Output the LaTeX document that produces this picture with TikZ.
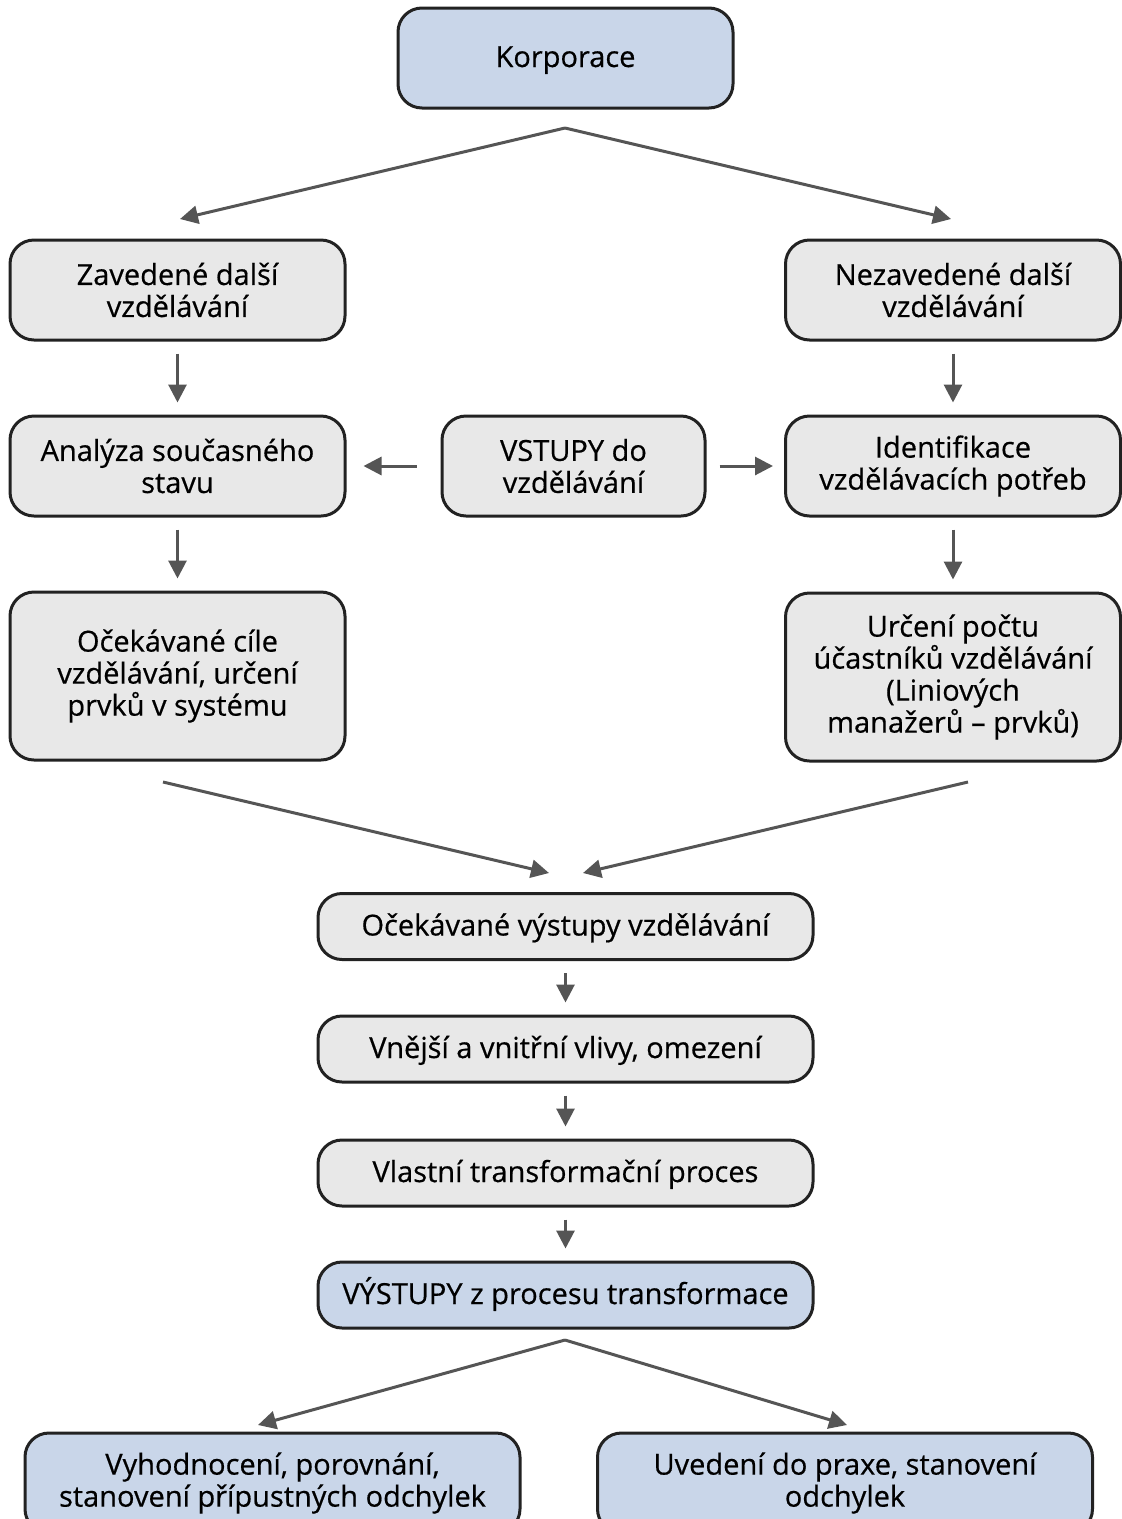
\documentclass[tikz,border=0pt]{standalone}
\usepackage{fontspec}
\setmainfont{Open Sans}[BoldFont=Open Sans, BoldFeatures={FakeBold=0.5}]
\usetikzlibrary{arrows.meta}
\definecolor{boxblue}{RGB}{201,214,233}
\definecolor{boxgray}{RGB}{232,232,232}
\definecolor{boxedge}{RGB}{34,34,34}
\definecolor{arrowc}{RGB}{85,85,85}
\begin{document}
\begin{tikzpicture}[x=1pt,y=-1pt,
  box/.style={draw=boxedge, line width=3pt, rounded corners=24pt, align=center,
    inner sep=0pt, font=\fontsize{29}{32}\selectfont\bfseries, text=black},
  graybox/.style={box, fill=boxgray},
  bluebox/.style={box, fill=boxblue},
  oneline/.style={text height=24pt, text depth=6pt},
  side/.style={minimum width=335pt, minimum height=100pt},
  mid/.style={minimum width=495pt, minimum height=66pt},
  arr/.style={draw=arrowc, line width=3pt, -{Triangle[length=18pt,width=18pt]}},
  gap/.style={shorten <=12pt, shorten >=12pt},
]
\useasboundingbox (0,0) rectangle (1122,1519);
\clip (0,0) rectangle (1122,1519);

% top
\node[bluebox, oneline, minimum width=335pt, minimum height=100pt] (korp) at (565.5,58) {Korporace};

% two branches
\node[graybox, side] (zav) at (177.5,290) {Zavedené další\\vzdělávání};
\node[graybox, side] (nezav) at (953,290) {Nezavedené další\\vzdělávání};
\node[graybox, side] (anal) at (177.5,466) {Analýza současného\\stavu};
\node[graybox, minimum width=263pt, minimum height=100pt] (vstup) at (573.5,466) {VSTUPY do\\vzdělávání};
\node[graybox, side] (ident) at (953,466) {Identifikace\\vzdělávacích potřeb};
\node[graybox, minimum width=335pt, minimum height=168pt] (cile) at (177.5,676) {Očekávané cíle\\vzdělávání, určení\\prvků v systému};
\node[graybox, minimum width=335pt, minimum height=168pt] (pocet) at (953,677) {Určení počtu\\účastníků vzdělávání\\(Liniových\\manažerů – prvků)};

% central chain
\node[graybox, oneline, mid] (vyst) at (565.5,926.5) {Očekávané výstupy vzdělávání};
\node[graybox, oneline, mid] (vlivy) at (565.5,1049) {Vnější a vnitřní vlivy, omezení};
\node[graybox, oneline, mid] (trans) at (565.5,1173) {Vlastní transformační proces};
\node[bluebox, oneline, mid] (vystupy) at (565.5,1295) {VÝSTUPY z procesu transformace};

% results
\node[bluebox, mid, minimum height=100pt] (hodn) at (272.5,1483) {Vyhodnocení, porovnání,\\stanovení přípustných odchylek};
\node[bluebox, mid, minimum height=100pt] (praxe) at (845,1483) {Uvedení do praxe, stanovení\\odchylek};

% fork below Korporace
\coordinate (forkTop) at (565,128);
\coordinate (forkL) at (180,219);
\coordinate (forkR) at (951,219);
\draw[arr] (forkTop) -- (forkL);
\draw[arr] (forkTop) -- (forkR);

% column arrows
\draw[arr, gap] (zav) -- (anal);
\draw[arr, gap] (nezav) -- (ident);
\draw[arr, gap] (anal) -- (cile);
\draw[arr, gap] (ident) -- (pocet);
\draw[arr, shorten <=24pt, shorten >=17pt] (vstup) -- (anal);
\draw[arr, shorten <=13pt, shorten >=11pt] (vstup) -- (ident);

% merge into the central chain
\coordinate (mergeL) at (163,782);
\coordinate (mergeR) at (968,782);
\coordinate (tipL) at (549,873);
\coordinate (tipR) at (583,873);
\draw[arr] (mergeL) -- (tipL);
\draw[arr] (mergeR) -- (tipR);

\draw[arr, gap] (vyst) -- (vlivy);
\draw[arr, gap] (vlivy) -- (trans);
\draw[arr, gap] (trans) -- (vystupy);

% final fork
\coordinate (forkB) at (565,1340);
\coordinate (forkBL) at (258,1425);
\coordinate (forkBR) at (847,1425);
\draw[arr] (forkB) -- (forkBL);
\draw[arr] (forkB) -- (forkBR);
\end{tikzpicture}
\end{document}
